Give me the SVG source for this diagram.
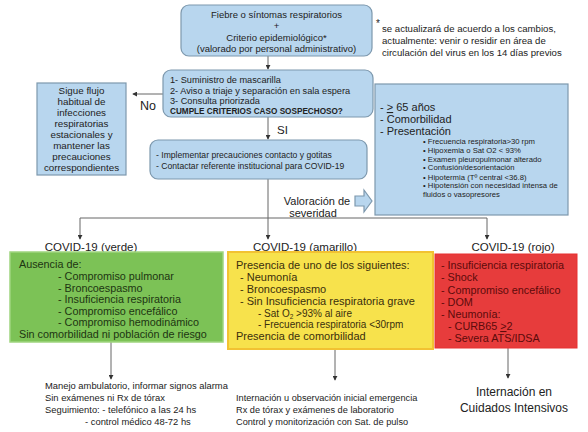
<svg xmlns="http://www.w3.org/2000/svg" width="588" height="432" viewBox="0 0 588 432">
<defs>
<style>
text{font-family:"Liberation Sans",Arial,sans-serif;fill:#222}
.blue{fill:#b8d6ee;stroke:#7d98ad;stroke-width:1.2}
.c{text-anchor:middle}
.ln{fill:none;stroke:#666;stroke-width:1}
.g text{fill:#1d3512}
.y text{fill:#3a2f0c}
.r text{fill:#5c0b0b}
</style>
<marker id="ah" viewBox="0 0 6 6" refX="5" refY="3" markerWidth="5" markerHeight="5" orient="auto">
<path d="M0,0L6,3L0,6z" fill="#333"/>
</marker>
</defs>
<rect width="588" height="432" fill="#fff"/>

<g id="connectors">
<line class="ln" x1="268" y1="56" x2="268" y2="69" marker-end="url(#ah)"/>
<line class="ln" x1="163" y1="94" x2="133" y2="94" marker-end="url(#ah)"/>
<line class="ln" x1="268" y1="117" x2="268" y2="139" marker-end="url(#ah)"/>
<line class="ln" x1="268" y1="179" x2="268" y2="217"/>
<polyline class="ln" points="80,218 487,218"/>
<line class="ln" x1="80" y1="218" x2="80" y2="239" marker-end="url(#ah)"/>
<line class="ln" x1="268" y1="217" x2="268" y2="239" marker-end="url(#ah)"/>
<line class="ln" x1="487" y1="218" x2="487" y2="239" marker-end="url(#ah)"/>
<line class="ln" x1="111" y1="342" x2="111" y2="379" marker-end="url(#ah)"/>
<line class="ln" x1="335" y1="349" x2="335" y2="380" marker-end="url(#ah)"/>
<line class="ln" x1="508" y1="348" x2="508" y2="378" marker-end="url(#ah)"/>
<text x="140" y="110" font-size="12.5">No</text>
<text x="277" y="134" font-size="11.5">SI</text>
<text x="317" y="205" font-size="11" class="c">Valoración de</text>
<text x="313" y="217" font-size="11" class="c">severidad</text>
<path d="M355,196H364V190L372,201L364,212V206H355Z" class="blue"/>
</g>

<g id="n-top">
<rect x="181" y="5" width="191" height="51" rx="8" class="blue"/>
<text x="276.5" y="18" font-size="9.5" class="c">Fiebre o síntomas respiratorios</text>
<text x="276.5" y="29" font-size="9.5" class="c">+</text>
<text x="276.5" y="41" font-size="9.5" class="c">Criterio epidemiológico*</text>
<text x="276.5" y="52" font-size="9.5" class="c">(valorado por personal administrativo)</text>
</g>

<g id="n-note">
<text x="376" y="27" font-size="10">*</text>
<text x="382" y="32" font-size="9.6">se actualizará de acuerdo a los cambios,</text>
<text x="382" y="44" font-size="9.6">actualmente: venir o residir en área de</text>
<text x="382" y="56" font-size="9.6">circulación del virus en los 14 días previos</text>
</g>

<g id="n-triage">
<rect x="163" y="70" width="210" height="47" rx="8" class="blue"/>
<text x="170" y="83" font-size="9.2">1- Suministro de mascarilla</text>
<text x="170" y="94" font-size="9.2">2- Aviso a triaje y separación en sala espera</text>
<text x="170" y="104" font-size="9.2">3- Consulta priorizada</text>
<text x="170" y="114" font-size="8.2" font-weight="bold">CUMPLE CRITERIOS CASO SOSPECHOSO?</text>
</g>

<g id="n-no">
<rect x="37" y="83" width="89" height="92" class="blue"/>
<text x="81.5" y="94" font-size="9.8" class="c">Sigue flujo</text>
<text x="81.5" y="105" font-size="9.8" class="c">habitual de</text>
<text x="81.5" y="116" font-size="9.8" class="c">infecciones</text>
<text x="81.5" y="127" font-size="9.8" class="c">respiratorias</text>
<text x="81.5" y="138" font-size="9.8" class="c">estacionales y</text>
<text x="81.5" y="149" font-size="9.8" class="c">mantener las</text>
<text x="81.5" y="160" font-size="9.8" class="c">precauciones</text>
<text x="81.5" y="171" font-size="9.8" class="c">correspondientes</text>
</g>

<g id="n-si">
<rect x="150" y="140" width="217" height="39" rx="8" class="blue"/>
<text x="156" y="158" font-size="8.6">- Implementar precauciones contacto y gotitas</text>
<text x="156" y="169" font-size="8.6">- Contactar referente institucional para COVID-19</text>
</g>

<g id="n-risk">
<rect x="375" y="84" width="193" height="131" class="blue"/>
<text x="380" y="111" font-size="11">- <tspan text-decoration="underline">&gt;</tspan> 65 años</text>
<text x="380" y="123" font-size="11">- Comorbilidad</text>
<text x="380" y="135" font-size="11">- Presentación</text>
<g font-size="7.7">
<text x="423" y="144">• Frecuencia respiratoria&gt;30 rpm</text>
<text x="423" y="153">• Hipoxemia o Sat O2 &lt; 93%</text>
<text x="423" y="161.5">• Examen pleuropulmonar alterado</text>
<text x="423" y="170">• Confusión/desorientación</text>
<text x="423" y="179.5">• Hipotermia (Tº central &lt;36.8)</text>
<text x="423" y="188">• Hipotensión con necesidad intensa de</text>
<text x="423" y="197">fluidos o vasopresores</text>
</g>
</g>

<g id="n-verde" class="g">
<text x="91" y="251" font-size="11.5" class="c" style="fill:#222">COVID-19 (verde)</text>
<rect x="10" y="252" width="213" height="90" fill="#7cc256" stroke="#9fd57f" stroke-width="1.5"/>
<text x="19" y="268" font-size="10.8">Ausencia de:</text>
<text x="58" y="280" font-size="10.8">- Compromiso pulmonar</text>
<text x="58" y="291.5" font-size="10.8">- Broncoespasmo</text>
<text x="58" y="303" font-size="10.8">- Insuficiencia respiratoria</text>
<text x="58" y="314.5" font-size="10.8">- Compromiso encefálico</text>
<text x="58" y="326" font-size="10.8">- Compromiso hemodinámico</text>
<text x="19" y="338" font-size="10.8">Sin comorbilidad ni población de riesgo</text>
</g>

<g id="n-amarillo" class="y">
<text x="305" y="251" font-size="11.5" class="c" style="fill:#222">COVID-19 (amarillo)</text>
<rect x="228" y="252" width="205" height="97" fill="#f7e24c" stroke="#f2c232" stroke-width="2"/>
<text x="236" y="269" font-size="11">Presencia de uno de los siguientes:</text>
<text x="240" y="281" font-size="11">- Neumonía</text>
<text x="240" y="293" font-size="11">- Broncoespasmo</text>
<text x="240" y="305" font-size="11">- Sin Insuficiencia respiratoria grave</text>
<text x="258" y="317" font-size="10">- Sat O<tspan font-size="6.5" dy="2">2</tspan><tspan dy="-2"> &gt;93% al aire</tspan></text>
<text x="258" y="328" font-size="10">- Frecuencia respiratoria &lt;30rpm</text>
<text x="236" y="340" font-size="11">Presencia de comorbilidad</text>
</g>

<g id="n-rojo" class="r">
<text x="513" y="251" font-size="11.5" class="c" style="fill:#222">COVID-19 (rojo)</text>
<rect x="435" y="254" width="142" height="94" fill="#e73c3c" stroke="#e73030" stroke-width="1"/>
<text x="441" y="269" font-size="10.8">- Insuficiencia respiratoria</text>
<text x="441" y="281" font-size="10.8">- Shock</text>
<text x="441" y="294" font-size="10.8">- Compromiso encefálico</text>
<text x="441" y="306" font-size="10.8">- DOM</text>
<text x="441" y="318" font-size="10.8">- Neumonía:</text>
<text x="448" y="330" font-size="10.8">- CURB65 <tspan text-decoration="underline">&gt;</tspan>2</text>
<text x="448" y="342" font-size="10.8">- Severa ATS/IDSA</text>
</g>

<g id="n-out-verde">
<text x="45" y="389" font-size="9.4">Manejo ambulatorio, informar signos alarma</text>
<text x="45" y="401" font-size="9.4">Sin exámenes ni Rx de tórax</text>
<text x="45" y="413" font-size="9.4">Seguimiento: - telefónico a las 24 hs</text>
<text x="85" y="425" font-size="9.4">- control médico 48-72 hs</text>
</g>

<g id="n-out-amarillo">
<text x="236" y="401" font-size="9.2">Internación u observación inicial emergencia</text>
<text x="236" y="413" font-size="9.2">Rx de tórax y exámenes de laboratorio</text>
<text x="236" y="425" font-size="9.2">Control y monitorización con Sat. de pulso</text>
</g>

<g id="n-out-rojo">
<text x="514" y="396" font-size="12" class="c">Internación en</text>
<text x="514" y="412" font-size="12" class="c">Cuidados Intensivos</text>
</g>
</svg>
